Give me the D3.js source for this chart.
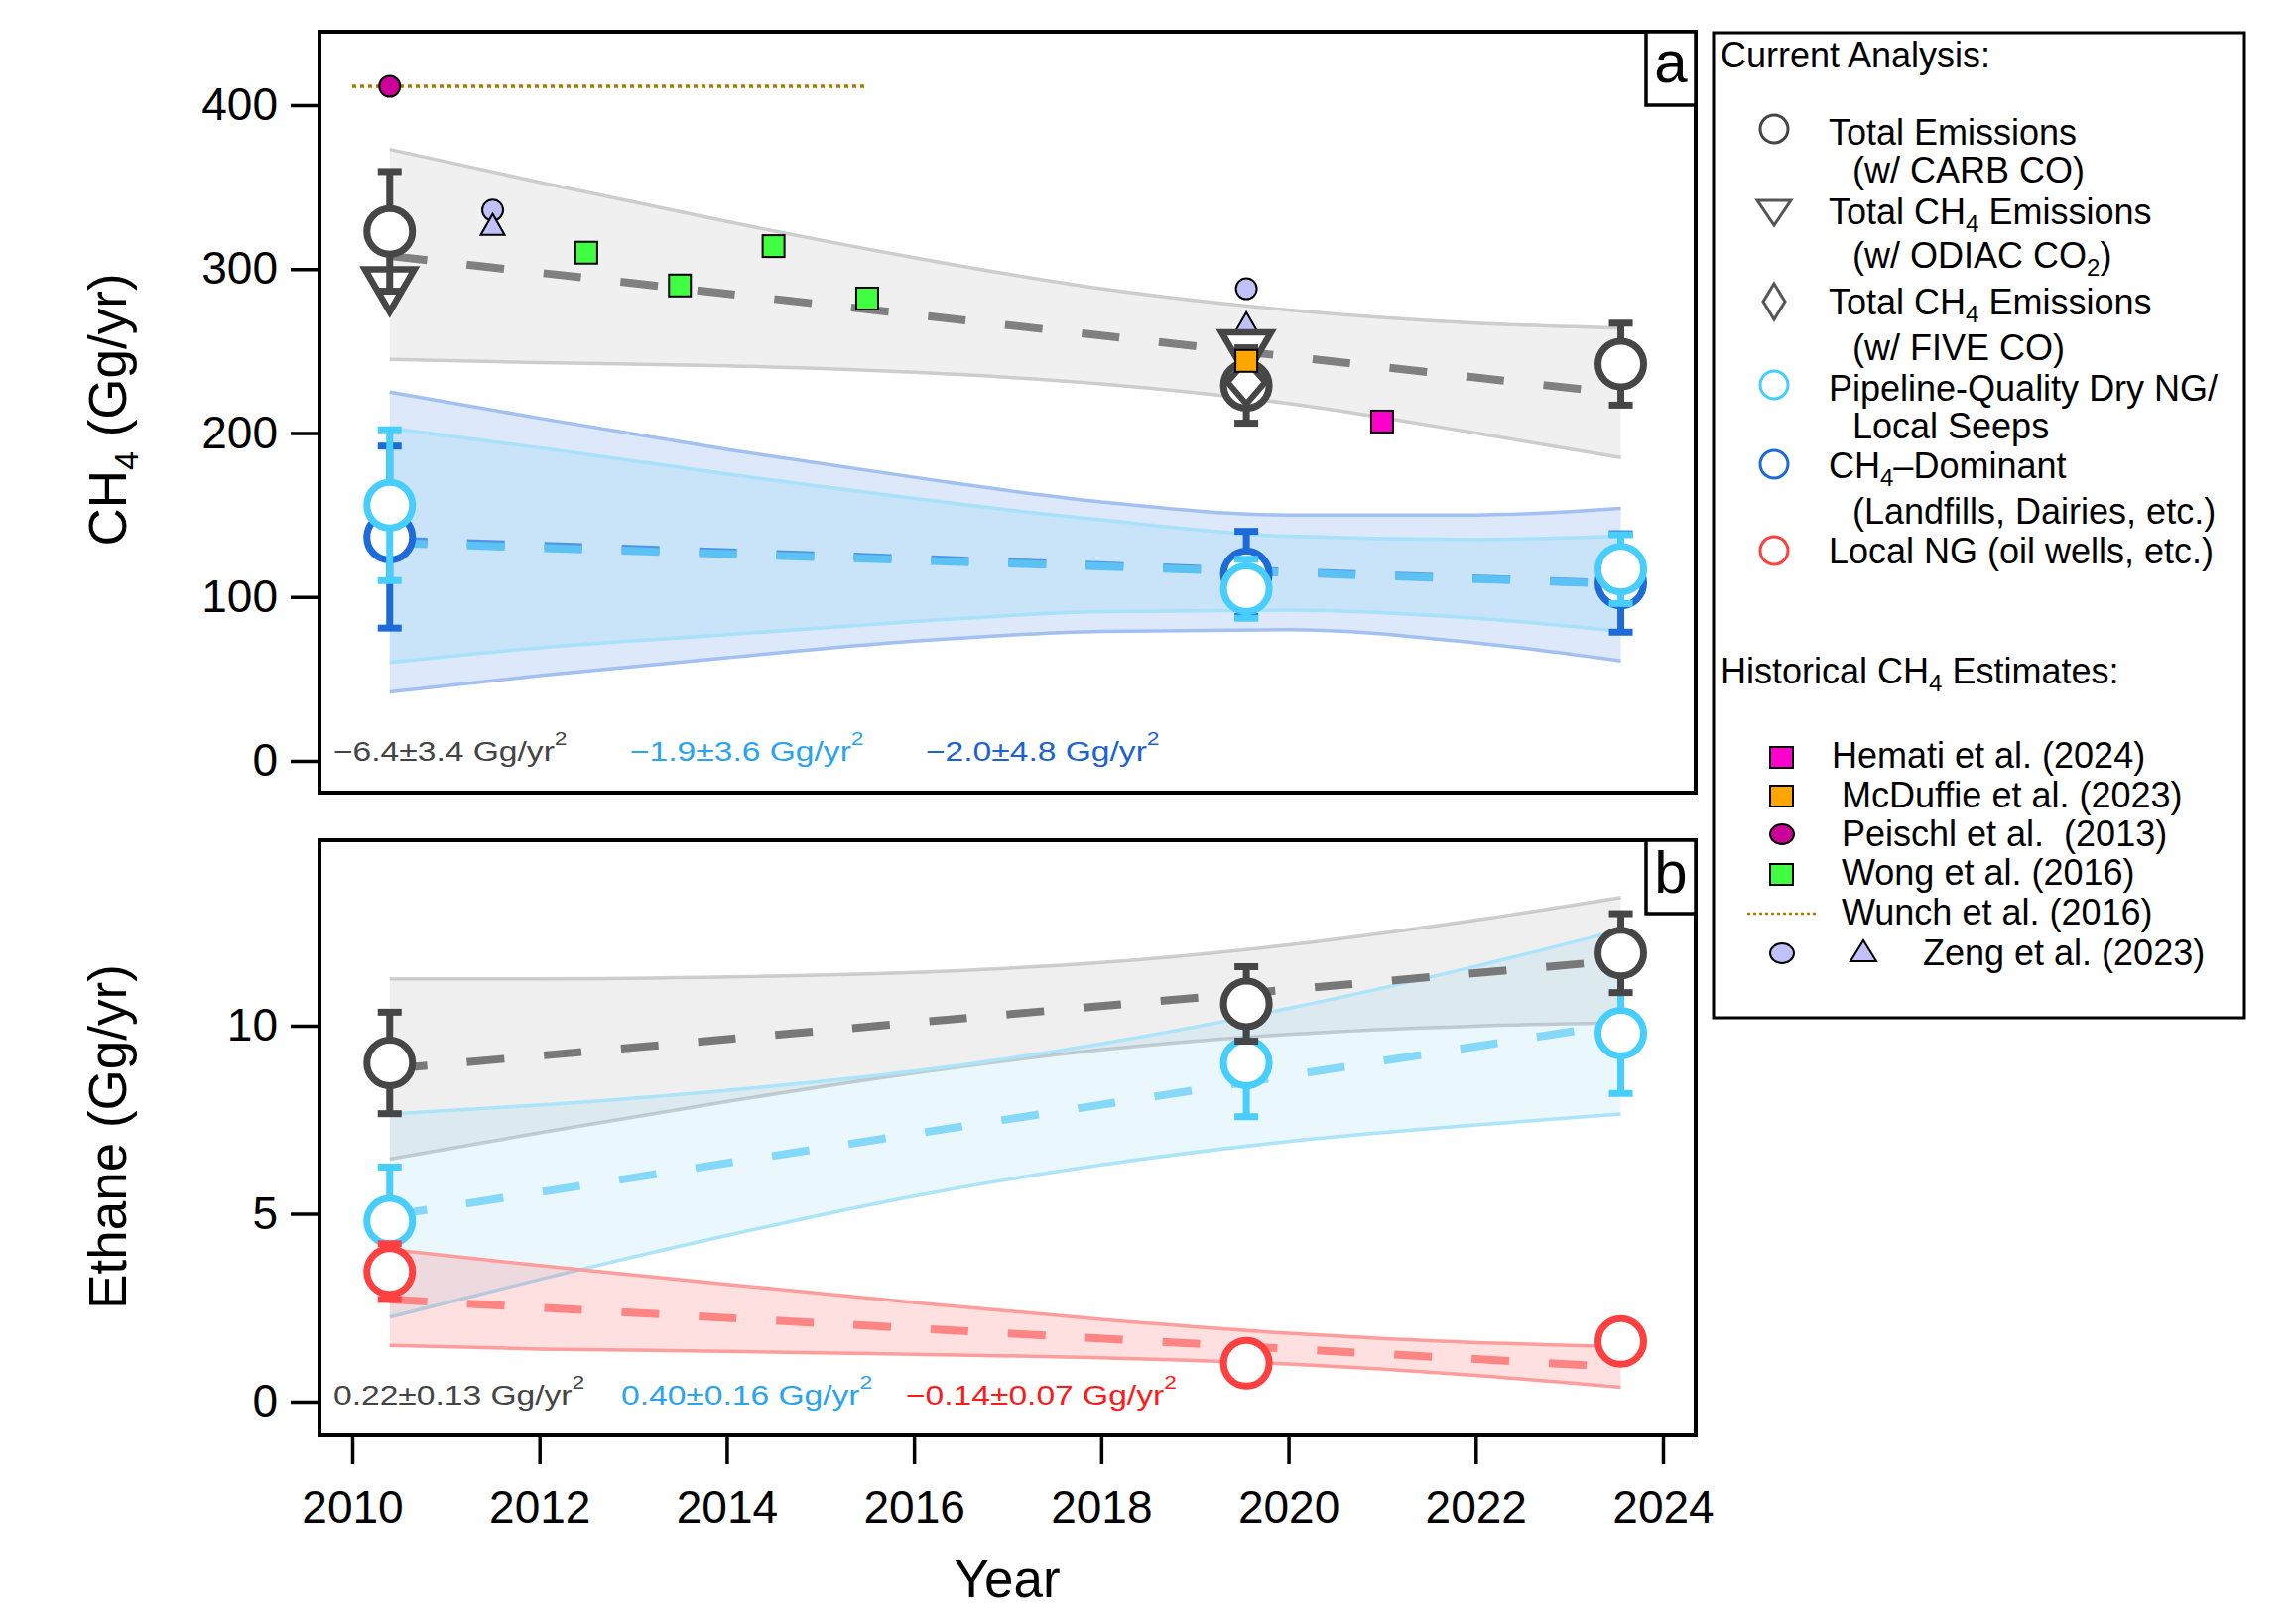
<!DOCTYPE html>
<html>
<head>
<meta charset="utf-8">
<script src="https://cdn.jsdelivr.net/npm/d3@7"></script>
<style>
    body { margin: 0; background: #fff; }
    svg text { font-family: "Liberation Sans", Arial, Helvetica, sans-serif; }
</style>
</head>
<body>
<div id="chart"></div>
<script>
// ---- data ----
let years = [2010.4, 2019.55, 2023.55];

// panel a, CH4 (Gg/yr)
let ch4Total = [323, 229, 242];
let ch4TotalErr = [36.5, 23, 25];
let odiacYears = [2010.4, 2019.55];
let ch4Odiac = [286, 247.5];
let fiveYears = [2019.55];
let ch4Five = [231];
let ch4Pipeline = [156, 105, 117];
let ch4PipelineErr = [46, 18, 21];
let ch4Dominant = [136.5, 114, 108.5];
let ch4DominantErr = [55.5, 26, 30];

// historical estimates
let wongYears = [2012.5, 2013.5, 2014.5, 2015.5];
let wongVals = [310, 290, 314, 282];
let zengYears = [2011.5, 2019.55];
let zengCircle = [336, 288];
let zengTriangle = [327, 267];
let peischlYear = [2010.4];
let peischlVal = [411.5];
let wunchYears = [2010.0, 2015.5];
let wunchVal = [411.5, 411.5];
let mcduffieYear = [2019.55];
let mcduffieVal = [244];
let hematiYear = [2021.0];
let hematiVal = [207];

// trend lines (end points)
let trendYears = [2010.4, 2023.55];
let ch4TotalTrend = [308, 224];
let ch4PipeTrend = [133, 108];
let ch4DomTrend = [134.5, 108.2];

// confidence bands
let bandYears = [2010.4, 2012, 2014, 2016, 2018, 2020, 2022, 2023.55];
let ch4TotalLo = [245, 243, 241, 237, 230, 218, 200, 185];
let ch4TotalHi = [373, 353, 329, 307, 288, 275, 267, 264];
let ch4DomLo = [42, 52, 63, 73, 79, 80, 72, 61];
let ch4DomHi = [225, 209, 190, 173, 158, 150, 150, 154];
let ch4PipeLo = [60, 69, 77, 85, 91, 92, 87, 79];
let ch4PipeHi = [203, 191, 175, 160, 147, 137, 135, 137];

// panel b, ethane (Gg/yr)
let ethTotal = [9.01, 10.58, 11.93];
let ethTotalErr = [1.35, 0.99, 1.05];
let ethPipeline = [4.8, 9.01, 9.8];
let ethPipelineErr = [1.44, 1.43, 1.6];
let ethLocal = [3.46, 1.02, 1.6];
let ethLocalErr = [0.74, 0.15, 0.15];

let ethTotalTrend = [8.85, 11.74];
let ethPipeTrend = [4.95, 10.05];
let ethLocalTrend = [2.72, 0.92];

let ethTotalLo = [6.45, 7.15, 7.98, 8.74, 9.36, 9.77, 9.99, 10.07];
let ethTotalHi = [11.25, 11.25, 11.3, 11.42, 11.68, 12.15, 12.81, 13.41];
let ethPipeLo = [2.25, 3.25, 4.42, 5.47, 6.3, 6.92, 7.36, 7.65];
let ethPipeHi = [7.65, 7.89, 8.28, 8.79, 9.52, 10.46, 11.58, 12.55];
let ethLocalLo = [1.5, 1.4, 1.34, 1.26, 1.17, 1.0, 0.7, 0.38];
let ethLocalHi = [4.05, 3.62, 3.12, 2.64, 2.19, 1.82, 1.57, 1.46];

let ch4Ticks = [0, 100, 200, 300, 400];
let ethTicks = [0, 5, 10];
let yearTicks = [2010, 2012, 2014, 2016, 2018, 2020, 2022, 2024];

// ---- colours ----
let cGray = '#464646';
let cLight = '#48cdff';
let cDark = '#1d6bd8';
let cRed = '#ff4040';

let svg = d3.select('#chart').append('svg')
    .attr('width', 2314)
    .attr('height', 1624);

// scales
let x = d3.scaleLinear().domain([2010, 2024]).range([355, 1676]);
let yA = d3.scaleLinear().domain([0, 400]).range([767, 106]);
let yB = d3.scaleLinear().domain([0, 10]).range([1413, 1034]);

let frameA = {x: 322, y: 32, w: 1387, h: 767};
let frameB = {x: 322, y: 847, w: 1387, h: 600};

let gA = svg.append('g');
let gB = svg.append('g');

function band(g, y, lo, hi, fill, edge) {
    let pts = bandYears.map(function (t, i) { return {t: t, lo: lo[i], hi: hi[i]}; });
    g.append('path')
        .attr('d', d3.area().curve(d3.curveMonotoneX)
            .x(function (d) { return x(d.t); })
            .y0(function (d) { return y(d.lo); })
            .y1(function (d) { return y(d.hi); })(pts))
        .attr('fill', fill);
    ['lo', 'hi'].forEach(function (k) {
        g.append('path')
            .attr('d', d3.line().curve(d3.curveMonotoneX)
                .x(function (d) { return x(d.t); })
                .y(function (d) { return y(d[k]); })(pts))
            .attr('fill', 'none')
            .attr('stroke', edge)
            .attr('stroke-width', 3.5);
    });
}

function trend(g, y, vals, color) {
    g.append('path')
        .attr('d', d3.line()
            .x(function (d, i) { return x(trendYears[i]); })
            .y(function (d) { return y(d); })(vals))
        .attr('fill', 'none')
        .attr('stroke', color)
        .attr('stroke-width', 8)
        .attr('stroke-dasharray', '38,40');
}

function errBars(g, y, vals, errs, color) {
    let eb = g.append('g').attr('stroke', color).attr('stroke-width', 7);
    eb.selectAll(null).data(vals).enter().append('line')
        .attr('x1', function (d, i) { return x(years[i]); })
        .attr('x2', function (d, i) { return x(years[i]); })
        .attr('y1', function (d, i) { return y(d + errs[i]); })
        .attr('y2', function (d, i) { return y(d - errs[i]); });
    [1, -1].forEach(function (s) {
        eb.selectAll(null).data(vals).enter().append('line')
            .attr('x1', function (d, i) { return x(years[i]) - 12; })
            .attr('x2', function (d, i) { return x(years[i]) + 12; })
            .attr('y1', function (d, i) { return y(d + s * errs[i]); })
            .attr('y2', function (d, i) { return y(d + s * errs[i]); });
    });
}

function openCircles(g, y, vals, color) {
    g.selectAll(null).data(vals).enter().append('circle')
        .attr('cx', function (d, i) { return x(years[i]); })
        .attr('cy', function (d) { return y(d); })
        .attr('r', 23)
        .attr('fill', '#fff')
        .attr('stroke', color)
        .attr('stroke-width', 7);
}

function squares(g, xs, vals, fill) {
    g.selectAll(null).data(vals).enter().append('rect')
        .attr('x', function (d, i) { return x(xs[i]) - 11; })
        .attr('y', function (d) { return yA(d) - 11; })
        .attr('width', 22)
        .attr('height', 22)
        .attr('fill', fill)
        .attr('stroke', '#000')
        .attr('stroke-width', 2);
}

function dots(g, xs, vals, fill) {
    g.selectAll(null).data(vals).enter().append('circle')
        .attr('cx', function (d, i) { return x(xs[i]); })
        .attr('cy', function (d) { return yA(d); })
        .attr('r', 10.5)
        .attr('fill', fill)
        .attr('stroke', '#000')
        .attr('stroke-width', 2);
}

function rateLabel(g, px, py, txt, color) {
    let t = g.append('text')
        .attr('transform', 'translate(' + px + ',' + py + ') scale(1.2,1)')
        .attr('font-size', 28)
        .attr('fill', color);
    t.append('tspan').text(txt);
    t.append('tspan').attr('font-size', 19).attr('dy', -16).text('2');
}

// ---------- panel a ----------
band(gA, yA, ch4TotalLo, ch4TotalHi, '#f0f0f0', '#cdcdcd');
band(gA, yA, ch4DomLo, ch4DomHi, 'rgba(100,150,230,0.22)', '#a2c0f2');
band(gA, yA, ch4PipeLo, ch4PipeHi, 'rgba(90,200,245,0.15)', '#a8e1fa');

trend(gA, yA, ch4TotalTrend, '#808080');
trend(gA, yA, ch4DomTrend, '#4f95e6');
trend(gA, yA, ch4PipeTrend, '#5cc2f4');

// Wunch et al. (dotted) and Peischl et al.
gA.append('path')
    .attr('d', d3.line()
        .x(function (d, i) { return x(wunchYears[i]); })
        .y(function (d) { return yA(d); })(wunchVal))
    .attr('stroke', '#b07a00')
    .attr('stroke-width', 3.5)
    .attr('stroke-dasharray', '4,4');
dots(gA, peischlYear, peischlVal, '#cc0099');

// Zeng et al.
dots(gA, zengYears, zengCircle, '#c0c0fa');
gA.selectAll(null).data(zengTriangle).enter().append('path')
    .attr('transform', function (d, i) { return 'translate(' + x(zengYears[i]) + ',' + yA(d) + ')'; })
    .attr('d', 'M-12,10L12,10L0,-11Z')
    .attr('fill', '#c0c0fa')
    .attr('stroke', '#000')
    .attr('stroke-width', 2)
    .attr('stroke-linejoin', 'miter');

// total CH4 w/ ODIAC CO2 (down triangles)
gA.selectAll(null).data(ch4Odiac).enter().append('path')
    .attr('transform', function (d, i) { return 'translate(' + x(odiacYears[i]) + ',' + yA(d) + ')'; })
    .attr('d', 'M-25,-23L25,-23L0,20Z')
    .attr('fill', '#fff')
    .attr('stroke', cGray)
    .attr('stroke-width', 6.5);

errBars(gA, yA, ch4Total, ch4TotalErr, cGray);
openCircles(gA, yA, ch4Total, cGray);

// total CH4 w/ FIVE CO (diamond)
gA.selectAll(null).data(ch4Five).enter().append('path')
    .attr('transform', function (d, i) { return 'translate(' + x(fiveYears[i]) + ',' + yA(d) + ')'; })
    .attr('d', 'M0,-22L19,0L0,22L-19,0Z')
    .attr('fill', '#fff')
    .attr('stroke', cGray)
    .attr('stroke-width', 6);

errBars(gA, yA, ch4Dominant, ch4DominantErr, cDark);
openCircles(gA, yA, ch4Dominant, cDark);
errBars(gA, yA, ch4Pipeline, ch4PipelineErr, cLight);
openCircles(gA, yA, ch4Pipeline, cLight);

squares(gA, wongYears, wongVals, '#40ff40');
squares(gA, mcduffieYear, mcduffieVal, '#ffa500');
squares(gA, hematiYear, hematiVal, '#ff00cc');

rateLabel(gA, 336, 767, '\u22126.4\u00b13.4 Gg/yr', '#444');
rateLabel(gA, 635, 767, '\u22121.9\u00b13.6 Gg/yr', '#2aa3f0');
rateLabel(gA, 933, 767, '\u22122.0\u00b14.8 Gg/yr', '#1b62d6');

// ---------- panel b ----------
band(gB, yB, ethTotalLo, ethTotalHi, 'rgba(128,128,128,0.13)', 'rgba(170,170,170,0.55)');
band(gB, yB, ethPipeLo, ethPipeHi, 'rgba(90,200,245,0.13)', '#ace4f9');
band(gB, yB, ethLocalLo, ethLocalHi, 'rgba(255,60,60,0.16)', '#ff9c9c');

trend(gB, yB, ethTotalTrend, '#787878');
trend(gB, yB, ethPipeTrend, '#84d9fa');
trend(gB, yB, ethLocalTrend, '#ff8585');

errBars(gB, yB, ethPipeline, ethPipelineErr, cLight);
openCircles(gB, yB, ethPipeline, cLight);
errBars(gB, yB, ethTotal, ethTotalErr, cGray);
openCircles(gB, yB, ethTotal, cGray);
errBars(gB, yB, ethLocal, ethLocalErr, cRed);
openCircles(gB, yB, ethLocal, cRed);

rateLabel(gB, 336, 1416, '0.22\u00b10.13 Gg/yr', '#444');
rateLabel(gB, 626, 1416, '0.40\u00b10.16 Gg/yr', '#2aa3f0');
rateLabel(gB, 913, 1416, '\u22120.14\u00b10.07 Gg/yr', '#ff1a1a');

// ---------- frames, axes ----------
[frameA, frameB].forEach(function (f) {
    svg.append('rect')
        .attr('x', f.x).attr('y', f.y)
        .attr('width', f.w).attr('height', f.h)
        .attr('fill', 'none')
        .attr('stroke', '#000')
        .attr('stroke-width', 4);
});

[['a', 32, 83], ['b', 847, 900]].forEach(function (p) {
    svg.append('rect')
        .attr('x', 1659).attr('y', p[1])
        .attr('width', 50).attr('height', 74)
        .attr('fill', '#fff')
        .attr('stroke', '#000')
        .attr('stroke-width', 3.5);
    svg.append('text')
        .attr('x', 1684).attr('y', p[2])
        .attr('text-anchor', 'middle')
        .attr('font-size', 60)
        .text(p[0]);
});

function styleAxis(g) {
    g.select('.domain').remove();
    g.attr('font-size', 46).attr('font-family', '"Liberation Sans", Arial, sans-serif');
    g.selectAll('.tick line').attr('stroke-width', 3.5);
    g.selectAll('.tick text').attr('fill', '#000');
}

svg.append('g')
    .attr('transform', 'translate(322,0)')
    .call(d3.axisLeft(yA).tickValues(ch4Ticks).tickSize(29).tickPadding(13))
    .call(styleAxis);

svg.append('g')
    .attr('transform', 'translate(322,0)')
    .call(d3.axisLeft(yB).tickValues(ethTicks).tickSize(29).tickPadding(13))
    .call(styleAxis);

svg.append('g')
    .attr('transform', 'translate(0,1447)')
    .call(d3.axisBottom(x).tickValues(yearTicks).tickFormat(d3.format('d')).tickSize(29).tickPadding(26))
    .call(styleAxis);

// axis titles
let t1 = svg.append('text')
    .attr('transform', 'translate(127,413) rotate(-90)')
    .attr('text-anchor', 'middle')
    .attr('font-size', 53);
t1.append('tspan').text('CH');
t1.append('tspan').attr('font-size', 34).attr('dy', 12).text('4');
t1.append('tspan').attr('dy', -12).text(' (Gg/yr)');

svg.append('text')
    .attr('transform', 'translate(127,1146) rotate(-90)')
    .attr('text-anchor', 'middle')
    .attr('font-size', 53)
    .text('Ethane (Gg/yr)');

svg.append('text')
    .attr('x', 1015).attr('y', 1610)
    .attr('text-anchor', 'middle')
    .attr('font-size', 53)
    .text('Year');

// ---------- legend ----------
let lg = svg.append('g');
lg.append('rect')
    .attr('x', 1727).attr('y', 33)
    .attr('width', 535).attr('height', 993)
    .attr('fill', '#fff')
    .attr('stroke', '#000')
    .attr('stroke-width', 3);

function legendText(px, py, parts) {
    let t = lg.append('text')
        .attr('x', px).attr('y', py)
        .attr('font-size', 36)
        .style('white-space', 'pre');
    let shift = 0;
    parts.forEach(function (p) {
        let ts = t.append('tspan');
        if (p.sub) {
            ts.attr('font-size', 24).attr('dy', 8 - shift);
            shift = 8;
        } else {
            ts.attr('dy', -shift);
            shift = 0;
        }
        ts.text(p.s);
    });
}

legendText(1734, 68, [{s: 'Current Analysis:'}]);
legendText(1843, 146, [{s: 'Total Emissions'}]);
legendText(1867, 184, [{s: '(w/ CARB CO)'}]);
legendText(1843, 226, [{s: 'Total CH'}, {s: '4', sub: true}, {s: ' Emissions'}]);
legendText(1867, 270, [{s: '(w/ ODIAC CO'}, {s: '2', sub: true}, {s: ')'}]);
legendText(1843, 317, [{s: 'Total CH'}, {s: '4', sub: true}, {s: ' Emissions'}]);
legendText(1867, 363, [{s: '(w/ FIVE CO)'}]);
legendText(1843, 404, [{s: 'Pipeline-Quality Dry NG/'}]);
legendText(1867, 442, [{s: 'Local Seeps'}]);
legendText(1843, 482, [{s: 'CH'}, {s: '4', sub: true}, {s: '\u2013Dominant'}]);
legendText(1867, 528, [{s: '(Landfills, Dairies, etc.)'}]);
legendText(1843, 568, [{s: 'Local NG (oil wells, etc.)'}]);
legendText(1734, 689, [{s: 'Historical CH'}, {s: '4', sub: true}, {s: ' Estimates:'}]);
legendText(1846, 774, [{s: 'Hemati et al. (2024)'}]);
legendText(1856, 814, [{s: 'McDuffie et al. (2023)'}]);
legendText(1856, 853, [{s: 'Peischl et al.  (2013)'}]);
legendText(1856, 892, [{s: 'Wong et al. (2016)'}]);
legendText(1856, 932, [{s: 'Wunch et al. (2016)'}]);
legendText(1938, 973, [{s: 'Zeng et al. (2023)'}]);

[[130, cGray], [388, cLight], [468, cDark], [555, cRed]].forEach(function (m) {
    lg.append('circle')
        .attr('cx', 1788).attr('cy', m[0]).attr('r', 14)
        .attr('fill', '#fff')
        .attr('stroke', m[1])
        .attr('stroke-width', 3);
});
lg.append('path')
    .attr('transform', 'translate(1788,214)')
    .attr('d', 'M-17,-12L17,-12L0,13Z')
    .attr('fill', '#fff')
    .attr('stroke', '#555')
    .attr('stroke-width', 3);
lg.append('path')
    .attr('transform', 'translate(1788,304)')
    .attr('d', 'M0,-18L11,0L0,18L-11,0Z')
    .attr('fill', '#fff')
    .attr('stroke', '#555')
    .attr('stroke-width', 3);

[[763, '#ff00cc'], [802, '#ffa500'], [881, '#40ff40']].forEach(function (m) {
    lg.append('rect')
        .attr('x', 1784).attr('y', m[0] - 10)
        .attr('width', 23).attr('height', 21)
        .attr('fill', m[1])
        .attr('stroke', '#000')
        .attr('stroke-width', 2);
});
lg.append('ellipse')
    .attr('cx', 1796).attr('cy', 841).attr('rx', 12).attr('ry', 10)
    .attr('fill', '#cc0099').attr('stroke', '#000').attr('stroke-width', 2);
lg.append('line')
    .attr('x1', 1761).attr('x2', 1831).attr('y1', 921).attr('y2', 921)
    .attr('stroke', '#b07a00').attr('stroke-width', 2.5).attr('stroke-dasharray', '3,3');
lg.append('ellipse')
    .attr('cx', 1796).attr('cy', 961).attr('rx', 12).attr('ry', 10)
    .attr('fill', '#c0c0fa').attr('stroke', '#000').attr('stroke-width', 2);
lg.append('path')
    .attr('transform', 'translate(1878,959)')
    .attr('d', 'M-13,10L13,10L0,-11Z')
    .attr('fill', '#c0c0fa').attr('stroke', '#000').attr('stroke-width', 2);
</script>
</body>
</html>
